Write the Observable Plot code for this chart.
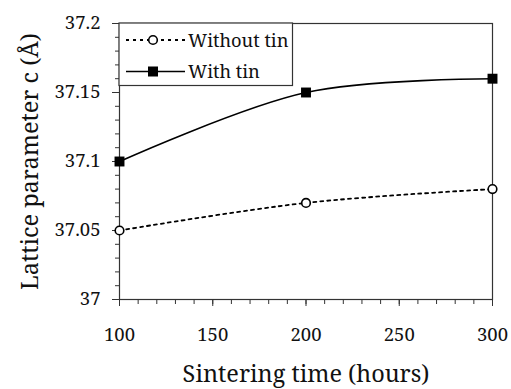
<!DOCTYPE html>
<html><head><meta charset="utf-8">
<script src="https://cdn.jsdelivr.net/npm/d3@7"></script>
<script src="https://cdn.jsdelivr.net/npm/@observablehq/plot@0.6"></script>
<style>
body{margin:0;background:#fff}
#chart{width:511px;height:389px}
#chart svg, #chart svg text{font-family:'Noto Serif' !important;}
</style>
</head><body><div id="chart"></div>
<script>
const hours = [100, 200, 300];
const withoutTin = [37.05, 37.07, 37.08];
const withTin = [37.10, 37.15, 37.16];
const seriesNames = ["Without tin", "With tin"];
const yTicks = [37, 37.05, 37.1, 37.15, 37.2];
const yTickLabels = ["37", "37.05", "37.1", "37.15", "37.2"];
const xTicks = [100, 150, 200, 250, 300];
const xTickLabels = ["100", "150", "200", "250", "300"];
const xTitle = "Sintering time (hours)";
const yTitle = "Lattice parameter c (Å)";

const rowsWithout = hours.map((h, i) => ({x: h, y: withoutTin[i]}));
const rowsWith = hours.map((h, i) => ({x: h, y: withTin[i]}));

const font = "Noto Serif";
const ML = 119, MR = 19, MT = 23, MB = 90;

const chart = Plot.plot({
  width: 511, height: 389,
  marginLeft: ML, marginRight: MR, marginTop: MT, marginBottom: MB,
  style: {background: "#fff", color: "#000"},
  x: {domain: [100, 300]},
  y: {domain: [37, 37.2]},
  marks: [
    Plot.frame({stroke: "#333", strokeWidth: 1.2}),
    Plot.axisY({ticks: 20, tickSize: 4, tickFormat: () => "", stroke: "#333", label: null}),
    Plot.axisY({ticks: yTicks, tickSize: 7, tickPadding: 12, tickFormat: (d, i) => yTickLabels[i], fontSize: 18.5, fontFamily: font, fill: "#111", stroke: "#333", label: null}),
    Plot.axisX({ticks: 20, tickSize: 5, tickFormat: () => "", stroke: "#333", label: null}),
    Plot.axisX({ticks: xTicks, tickSize: 7, tickPadding: 21, tickFormat: (d, i) => xTickLabels[i], fontSize: 18.5, fontFamily: font, fill: "#111", stroke: "#333", label: null}),
    Plot.text([xTitle], {frameAnchor: "bottom", textAnchor: "middle", lineAnchor: "bottom", dy: 82, fontSize: 23.5, fontFamily: font, fill: "#111"}),
    Plot.text([yTitle], {frameAnchor: "left", textAnchor: "middle", rotate: -90, lineAnchor: "bottom", dx: -82, fontSize: 23.5, fontFamily: font, fill: "#111"}),
    Plot.line(rowsWithout, {x: "x", y: "y", curve: "catmull-rom", stroke: "#000", strokeWidth: 1.8, strokeDasharray: "3,4"}),
    Plot.line(rowsWith, {x: "x", y: "y", curve: "catmull-rom", stroke: "#000", strokeWidth: 1.6}),
    Plot.dot(rowsWithout, {x: "x", y: "y", r: 4.3, fill: "#fff", stroke: "#000", strokeWidth: 1.6}),
    Plot.dot(rowsWith, {x: "x", y: "y", r: 5.6, symbol: "square", fill: "#000", stroke: "none"})
  ]
});

// Legend (inside plot, top-left)
const svg = d3.select(chart);
const lg = svg.append("g").attr("text-anchor", "start").attr("font-family", font);
const bx = ML, by = MT, bw = 173.5, bh = 62.5;
lg.append("rect").attr("x", bx).attr("y", by).attr("width", bw).attr("height", bh)
  .attr("fill", "#fff").attr("stroke", "#333").attr("stroke-width", 1.2);
const rowsY = [40, 71.5];
seriesNames.forEach((name, i) => {
  const cy = rowsY[i];
  lg.append("line").attr("x1", bx + 7).attr("x2", bx + 66).attr("y1", cy).attr("y2", cy)
    .attr("stroke", "#000").attr("stroke-width", i === 0 ? 1.8 : 1.6)
    .attr("stroke-dasharray", i === 0 ? "3,4" : null);
  if (i === 0) {
    lg.append("circle").attr("cx", bx + 34).attr("cy", cy).attr("r", 4.3)
      .attr("fill", "#fff").attr("stroke", "#000").attr("stroke-width", 1.6);
  } else {
    lg.append("rect").attr("x", bx + 34 - 5).attr("y", cy - 5).attr("width", 10).attr("height", 10).attr("fill", "#000");
  }
  lg.append("text").attr("x", bx + 69).attr("y", cy + 6.5).attr("font-size", 18.3).attr("fill", "#111").text(name);
});

document.getElementById("chart").appendChild(chart);
</script>
</body></html>
